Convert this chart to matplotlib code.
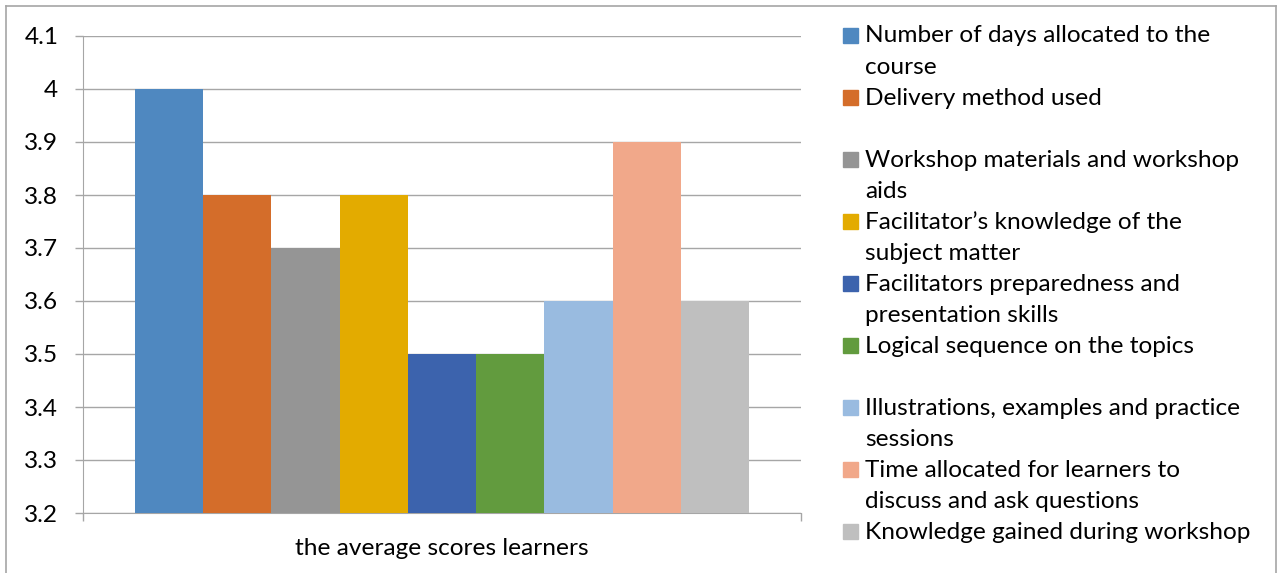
import matplotlib
matplotlib.use("Agg")
import matplotlib.pyplot as plt
from matplotlib.patches import Rectangle
from matplotlib.lines import Line2D

categories = ["the average scores learners"]
series_names = [
    "Number of days allocated to the\ncourse",
    "Delivery method used",
    "Workshop materials and workshop\naids",
    "Facilitator\u2019s knowledge of the\nsubject matter",
    "Facilitators preparedness and\npresentation skills",
    "Logical sequence on the topics",
    "Illustrations, examples and practice\nsessions",
    "Time allocated for learners to\ndiscuss and ask questions",
    "Knowledge gained during workshop",
]
values = [4.0, 3.8, 3.7, 3.8, 3.5, 3.5, 3.6, 3.9, 3.6]
colors = ["#4F88C0", "#D46D2A", "#959595", "#E3AB00", "#3C63AD",
          "#629B3E", "#99BBE0", "#F1A88A", "#BFBFBF"]
yticks = [3.2, 3.3, 3.4, 3.5, 3.6, 3.7, 3.8, 3.9, 4.0, 4.1]
ytick_labels = ["3.2", "3.3", "3.4", "3.5", "3.6", "3.7", "3.8", "3.9", "4", "4.1"]

plt.rcParams['font.family'] = ['Lato', 'DejaVu Sans']
FS = 17.6

W, H = 1282, 573
fig = plt.figure(figsize=(W / 100, H / 100), dpi=100)
ax = fig.add_axes([83 / W, 1 - 513 / H, (801 - 83) / W, (513 - 36) / H])

n = len(values)
bw = 1.0 / (n + 1.52)
for i, (v, c) in enumerate(zip(values, colors)):
    x = (i - (n - 1) / 2) * bw
    ax.bar(x, v - 3.2, width=bw, bottom=3.2, color=c, zorder=3)

ax.set_xlim(-0.5, 0.5)
ax.set_ylim(3.2, 4.1)
ax.set_yticks(yticks)
ax.set_yticklabels(ytick_labels, fontsize=FS)
ax.yaxis.grid(True, color="#A6A6A6", lw=1, zorder=0)
ax.set_axisbelow(True)
ax.set_xticks([-0.5, 0.5])
ax.set_xticklabels(["", ""])
ax.tick_params(axis='x', length=5.8, color="#A6A6A6", width=1)
ax.tick_params(axis='y', length=5.8, color="#A6A6A6", width=1, pad=12)
for s in ["top", "right"]:
    ax.spines[s].set_visible(False)
for s in ["left", "bottom"]:
    ax.spines[s].set_color("#A6A6A6")
ax.text(0, -0.075, categories[0], transform=ax.get_xaxis_transform(),
        ha="center", va="center", fontsize=FS)

# outer chart border
bc = "#A6A6A6"
fig.add_artist(Line2D([6 / W, 6 / W], [0, 1 - 6 / H], transform=fig.transFigure, color=bc, lw=1.2))
fig.add_artist(Line2D([6 / W, 1276 / W], [1 - 6 / H, 1 - 6 / H], transform=fig.transFigure, color=bc, lw=1.2))
fig.add_artist(Line2D([1276 / W, 1276 / W], [0, 1 - 6 / H], transform=fig.transFigure, color=bc, lw=1.2))

# legend drawn manually
y0 = 35
slot = 62.1
line_h = 31
for i, (name, c) in enumerate(zip(series_names, colors)):
    yc = y0 + i * slot
    fig.add_artist(Rectangle((843 / W, 1 - (yc + 7.5) / H), 15 / W, 15 / H,
                             transform=fig.transFigure, color=c))
    for k, line in enumerate(name.split("\n")):
        fig.text(865 / W, 1 - (yc + 7.5 + k * line_h) / H, line, ha="left",
                 va="baseline", fontsize=FS)

fig.savefig("out.png", dpi=100)
